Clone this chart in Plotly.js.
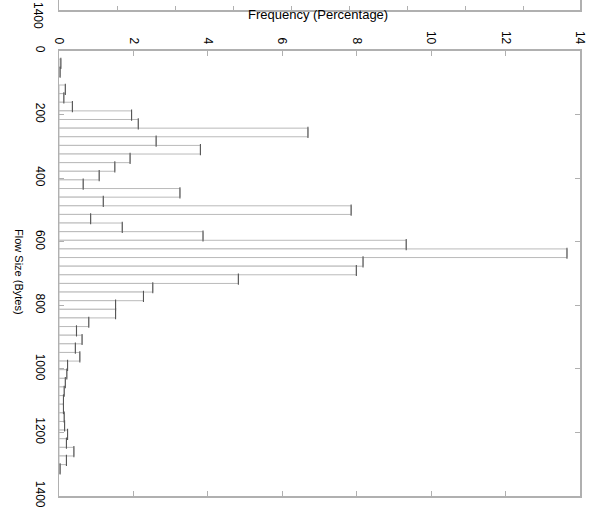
<!DOCTYPE html>
<html>
<head>
<meta charset="utf-8">
<script src="https://cdn.plot.ly/plotly-3.0.1.min.js"></script>
<style>
  html, body { margin: 0; padding: 0; background: #fff; }
  #chart { width: 589px; height: 516px; }
</style>
</head>
<body>
<div id="chart"></div>
<script>
// Flow size bin centres (bytes)
const flowSizeBins = [39.1, 66.3, 120.6, 147.7, 174.8, 202.0, 229.1, 256.3, 283.4, 310.6,
  337.7, 364.8, 392.0, 419.1, 446.3, 473.4, 500.6, 527.7, 554.8, 582.0,
  609.1, 636.3, 663.4, 690.5, 717.7, 744.8, 772.0, 799.1, 826.2, 853.4,
  880.5, 907.7, 934.8, 962.0, 989.1, 1016.2, 1043.4, 1070.5, 1097.7, 1124.8,
  1152.0, 1179.1, 1206.2, 1233.4, 1260.5, 1287.7, 1314.8];
// Frequency (percentage) per bin
const frequencyPct = [0.05, 0.03, 0.17, 0.13, 0.36, 1.95, 2.13, 6.69, 2.61, 3.80,
  1.91, 1.50, 1.08, 0.65, 3.25, 1.19, 7.85, 0.85, 1.70, 3.87,
  9.33, 13.65, 8.17, 7.99, 4.82, 2.52, 2.27, 1.52, 1.52, 0.80,
  0.47, 0.62, 0.44, 0.56, 0.23, 0.21, 0.17, 0.14, 0.12, 0.12,
  0.14, 0.15, 0.23, 0.20, 0.40, 0.20, 0.03];
const freqTicks = [0, 2, 4, 6, 8, 10, 12, 14];
const sizeTicks = [0, 200, 400, 600, 800, 1000, 1200, 1400];
const binWidth = 27.14;

const axisGray = '#b0b0b0';
const tickFont = {family: 'Liberation Sans, Arial, sans-serif', size: 12, color: '#000'};

const traces = [
  {
    type: 'bar', orientation: 'h',
    x: frequencyPct, y: flowSizeBins, width: binWidth,
    marker: {color: '#ffffff', line: {color: '#bababa', width: 1}},
    hoverinfo: 'none', xaxis: 'x', yaxis: 'y'
  },
  {
    type: 'scatter', mode: 'markers',
    x: frequencyPct, y: flowSizeBins,
    marker: {symbol: 'line-ns', size: 8, line: {color: '#555555', width: 1.1}},
    hoverinfo: 'none', xaxis: 'x', yaxis: 'y'
  },
  { type: 'scatter', x: [], y: [], xaxis: 'x2', yaxis: 'y2', hoverinfo: 'none' }
];

const layout = {
  width: 589, height: 516,
  margin: {l: 59, r: 9, t: 0, b: 20},
  paper_bgcolor: '#fff', plot_bgcolor: '#fff',
  showlegend: false, bargap: 0,
  xaxis: {
    range: [0, 14], side: 'top', anchor: 'y',
    tickvals: freqTicks, ticktext: freqTicks.map(String),
    tickangle: 90, ticks: 'inside', ticklen: 5, tickcolor: axisGray,
    showline: true, linecolor: axisGray, linewidth: 1.5, mirror: 'ticks',
    showgrid: false, zeroline: false, tickfont: tickFont, ticklabelstandoff: 1
  },
  yaxis: {
    range: [1400, 0], domain: [0, 0.8972], anchor: 'x',
    tickvals: sizeTicks, ticktext: sizeTicks.map(String),
    tickangle: 90, ticks: 'inside', ticklen: 5, tickcolor: axisGray,
    showline: true, linecolor: axisGray, linewidth: 1.5, mirror: 'ticks',
    showgrid: false, zeroline: false, tickfont: tickFont, ticklabelstandoff: 7
  },
  xaxis2: {
    range: [0, 8.967], anchor: 'y2', side: 'bottom',
    dtick: 1, tick0: 0, ticks: 'inside', ticklen: 4, tickcolor: axisGray,
    showticklabels: false, showline: true, linecolor: axisGray, linewidth: 1.5,
    showgrid: false, zeroline: false
  },
  yaxis2: {
    range: [0, 1], domain: [0.9798, 1], anchor: 'x2',
    showticklabels: false, ticks: '', showline: true, linecolor: axisGray, linewidth: 1.5,
    mirror: true, showgrid: false, zeroline: false
  },
  annotations: [
    {text: 'Frequency (Percentage)', xref: 'paper', yref: 'paper', x: 0.497, y: 0.9698,
     xanchor: 'center', yanchor: 'middle', showarrow: false,
     font: {family: 'Liberation Sans, Arial, sans-serif', size: 13, color: '#000'}},
    {text: 'Flow Size (Bytes)', xref: 'paper', yref: 'paper', x: -0.0768, y: 0.4516,
     xanchor: 'center', yanchor: 'middle', showarrow: false, textangle: 90,
     font: {family: 'Liberation Sans Narrow, Liberation Sans, Arial, sans-serif', size: 11, color: '#000'}},
    {text: '1400', xref: 'paper', yref: 'paper', x: -0.0403, y: 0.9698,
     xanchor: 'center', yanchor: 'middle', showarrow: false, textangle: 90,
     font: tickFont}
  ]
};

Plotly.newPlot('chart', traces, layout, {displayModeBar: false, staticPlot: true});
</script>
</body>
</html>
